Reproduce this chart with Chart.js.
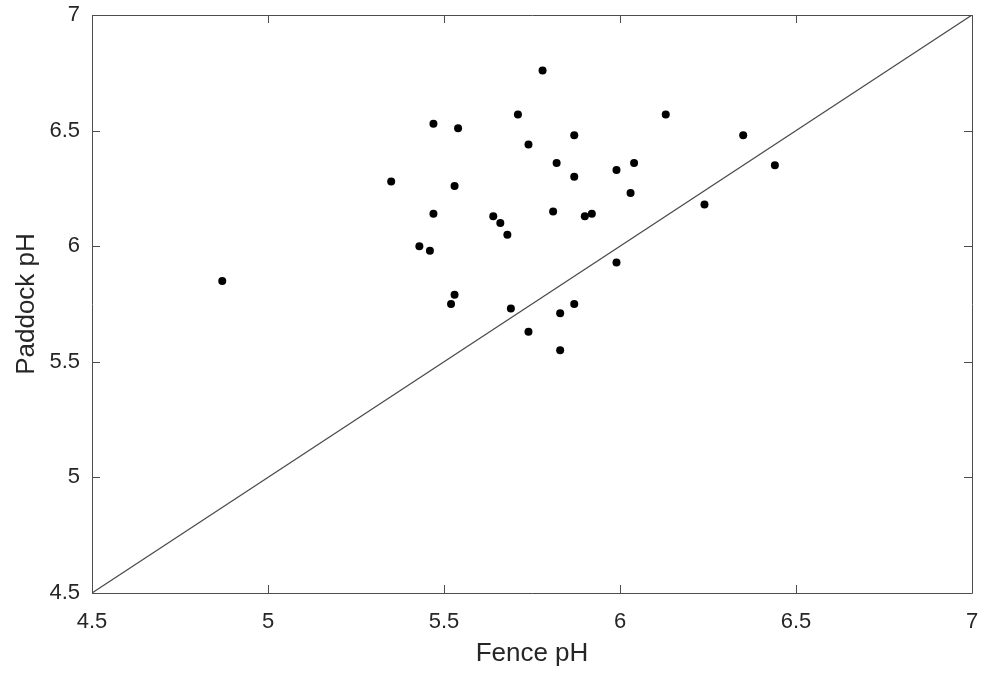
<!DOCTYPE html>
<html>
<head>
<meta charset="utf-8">
<script src="https://cdn.jsdelivr.net/npm/chart.js@4/dist/chart.umd.min.js"></script>
<style>
  html, body { margin: 0; padding: 0; background: #fff; }
  #wrap { width: 983px; height: 673px; }
</style>
</head>
<body>
<div id="wrap"><canvas id="myChart"></canvas></div>
<script>
// fence pH vs paddock pH, one point per site
var fencePH = [4.87, 5.35, 5.43, 5.46, 5.47, 5.47, 5.52, 5.53, 5.53, 5.54,
               5.64, 5.66, 5.68, 5.69, 5.71, 5.74, 5.74, 5.78, 5.81, 5.82,
               5.83, 5.83, 5.87, 5.87, 5.87, 5.90, 5.92, 5.99, 5.99, 6.03,
               6.04, 6.13, 6.24, 6.35, 6.44];
var paddockPH = [5.85, 6.28, 6.00, 5.98, 6.14, 6.53, 5.75, 5.79, 6.26, 6.51,
                 6.13, 6.10, 6.05, 5.73, 6.57, 5.63, 6.44, 6.76, 6.15, 6.36,
                 5.71, 5.55, 6.48, 6.30, 5.75, 6.13, 6.14, 5.93, 6.33, 6.23,
                 6.36, 6.57, 6.18, 6.48, 6.35];
// 1:1 reference line
var oneToOne = [4.5, 7];
var xTicks = [4.5, 5, 5.5, 6, 6.5, 7];
var yTicks = [4.5, 5, 5.5, 6, 6.5, 7];

var points = [];
for (var i = 0; i < fencePH.length; i++) {
  points.push({ x: fencePH[i], y: paddockPH[i] });
}

var axisColor = '#4d4d4d';
var textColor = '#262626';
var fontFamily = '"Liberation Sans", Arial, Helvetica, sans-serif';

// MATLAB style box with inward ticks on all four sides
var boxPlugin = {
  id: 'box',
  afterDraw: function (chart) {
    var ctx = chart.ctx;
    var a = chart.chartArea;
    var xs = chart.scales.x, ys = chart.scales.y;
    var len = 8;
    ctx.save();
    ctx.strokeStyle = axisColor;
    ctx.lineWidth = 1;
    ctx.beginPath();
    ctx.rect(Math.round(a.left) + 0.5, Math.round(a.top) + 0.5,
             Math.round(a.right - a.left), Math.round(a.bottom - a.top));
    xTicks.forEach(function (v) {
      var px = Math.round(xs.getPixelForValue(v)) + 0.5;
      ctx.moveTo(px, a.bottom); ctx.lineTo(px, a.bottom - len);
      ctx.moveTo(px, a.top); ctx.lineTo(px, a.top + len);
    });
    yTicks.forEach(function (v) {
      var py = Math.round(ys.getPixelForValue(v)) + 0.5;
      ctx.moveTo(a.left, py); ctx.lineTo(a.left + len, py);
      ctx.moveTo(a.right, py); ctx.lineTo(a.right - len, py);
    });
    ctx.stroke();
    ctx.restore();
  }
};

function plainLabel(v) { return String(v); }

var ctx = document.getElementById('myChart').getContext('2d');
var chart = new Chart(ctx, {
  data: {
    datasets: [{
      type: 'line',
      data: [{ x: oneToOne[0], y: oneToOne[0] }, { x: oneToOne[1], y: oneToOne[1] }],
      borderColor: '#4a4a4a',
      borderWidth: 1.2,
      pointRadius: 0,
      fill: false
    }, {
      type: 'scatter',
      data: points,
      backgroundColor: '#000000',
      borderWidth: 0,
      pointRadius: 4
    }]
  },
  options: {
    responsive: true,
    maintainAspectRatio: false,
    animation: false,
    layout: { padding: { top: 15, right: 11, left: 0, bottom: 0 } },
    plugins: { legend: { display: false }, tooltip: { enabled: false } },
    scales: {
      x: {
        type: 'linear',
        min: 4.5, max: 7,
        afterBuildTicks: function (s) { s.ticks = xTicks.map(function (v) { return { value: v }; }); },
        afterFit: function (s) { s.height = 80; s.paddingLeft = 0; s.paddingRight = 0; },
        grid: { display: false, drawTicks: false },
        border: { display: false },
        ticks: { padding: 16, color: textColor, font: { family: fontFamily, size: 22 },
                 maxRotation: 0, callback: plainLabel },
        title: { display: true, text: 'Fence pH', color: textColor,
                 font: { family: fontFamily, size: 26 }, padding: { top: 0, bottom: 4 } }
      },
      y: {
        type: 'linear',
        min: 4.5, max: 7,
        afterBuildTicks: function (s) { s.ticks = yTicks.map(function (v) { return { value: v }; }); },
        afterFit: function (s) { s.width = 92; s.paddingTop = 0; s.paddingBottom = 0; },
        grid: { display: false, drawTicks: false },
        border: { display: false },
        ticks: { padding: 12, color: textColor, font: { family: fontFamily, size: 22 },
                 callback: plainLabel },
        title: { display: true, text: 'Paddock pH', color: textColor,
                 font: { family: fontFamily, size: 26 }, padding: { top: 11, bottom: 0 } }
      }
    }
  },
  plugins: [boxPlugin]
});
</script>
</body>
</html>
